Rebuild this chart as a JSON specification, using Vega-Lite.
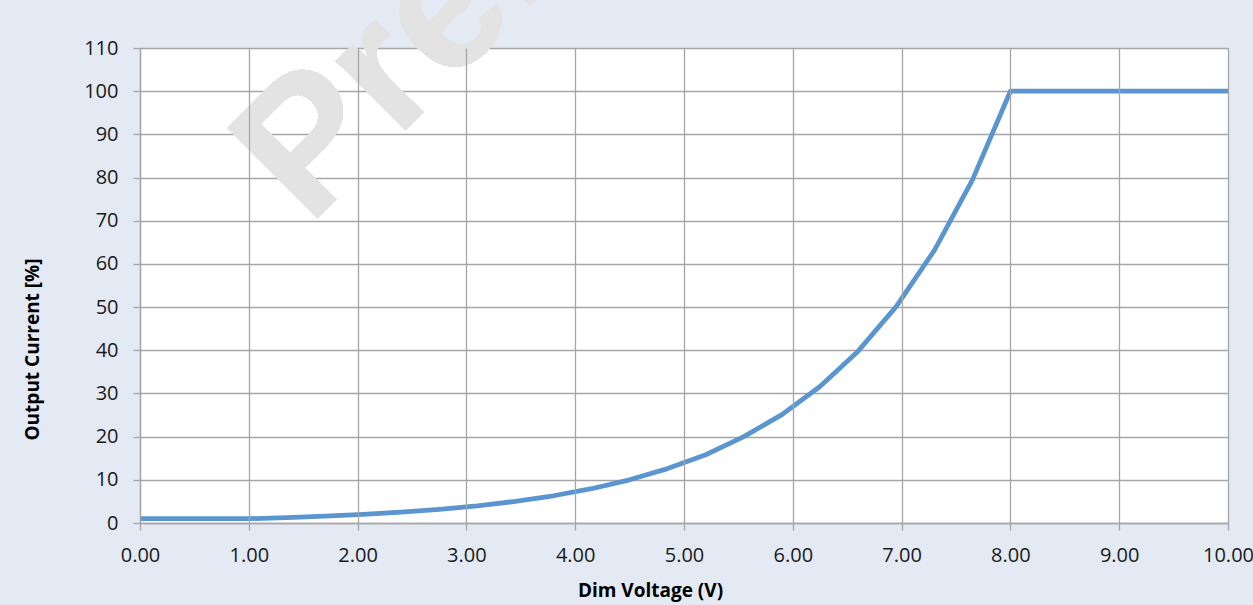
{
  "$schema": "https://vega.github.io/schema/vega-lite/v6.json",
  "width": 1088,
  "height": 475,
  "autosize": {"type": "none"},
  "padding": {"left": 140, "top": 48, "right": 25, "bottom": 82},
  "background": "#e3eaf4",
  "config": {"view": {"fill": "white", "stroke": null}, "font": "Open Sans"},
  "data": {
    "values": [
      {"v": 0.0, "i": 1.0},
      {"v": 1.0, "i": 1.0},
      {"v": 1.35, "i": 1.26},
      {"v": 1.7, "i": 1.58},
      {"v": 2.05, "i": 2.0},
      {"v": 2.4, "i": 2.51},
      {"v": 2.75, "i": 3.16},
      {"v": 3.1, "i": 3.98},
      {"v": 3.45, "i": 5.01},
      {"v": 3.8, "i": 6.31},
      {"v": 4.15, "i": 7.94},
      {"v": 4.5, "i": 10.0},
      {"v": 4.85, "i": 12.6},
      {"v": 5.2, "i": 15.8},
      {"v": 5.55, "i": 20.0},
      {"v": 5.9, "i": 25.1},
      {"v": 6.25, "i": 31.6},
      {"v": 6.6, "i": 39.8},
      {"v": 6.95, "i": 50.1},
      {"v": 7.3, "i": 63.1},
      {"v": 7.65, "i": 79.4},
      {"v": 8.0, "i": 100.0},
      {"v": 10.0, "i": 100.0}
    ]
  },
  "layer": [
    {
      "mark": {"type": "text", "text": "Preliminary", "angle": -45, "fontSize": 186, "font": "Liberation Sans", "fontWeight": "bold", "align": "left", "baseline": "alphabetic", "fill": "#e3e3e3"},
      "encoding": {
        "x": {"datum": 1.55, "type": "quantitative", "title": "Dim Voltage (V)"},
        "y": {"datum": 68.5, "type": "quantitative", "title": "Output Current [%]"}
      }
    },
    {
      "mark": {"type": "line", "color": "#5b95cf", "strokeWidth": 4.8, "strokeJoin": "round", "clip": false},
      "encoding": {
        "x": {
          "field": "v", "type": "quantitative", "title": "Dim Voltage (V)",
          "scale": {"domain": [0, 10], "nice": false, "zero": false},
          "axis": {
            "zindex": 1,
            "values": [0, 1, 2, 3, 4, 5, 6, 7, 8, 9, 10],
            "format": ".2f",
            "grid": true, "gridColor": "#a6a6a6", "gridWidth": 1.3,
            "domainColor": "#a6a6a6", "domainWidth": 1.3,
            "tickColor": "#a6a6a6", "tickWidth": 1.3, "tickSize": 7,
            "labelFontSize": 20, "labelColor": "#1a1a1a", "labelPadding": 15,
            "labelFlush": false, "labelOverlap": false,
            "titleFontSize": 19, "titleFontWeight": "bold", "titleColor": "#000000",
            "titleX": 510, "titleY": 73, "titleBaseline": "alphabetic", "titleAlign": "center"
          }
        },
        "y": {
          "field": "i", "type": "quantitative", "title": "Output Current [%]",
          "scale": {"domain": [0, 110], "nice": false},
          "axis": {
            "zindex": 0,
            "values": [0, 10, 20, 30, 40, 50, 60, 70, 80, 90, 100, 110],
            "grid": true, "gridColor": "#a6a6a6", "gridWidth": 1.3,
            "domainColor": "#a6a6a6", "domainWidth": 1.3,
            "tickColor": "#a6a6a6", "tickWidth": 1.3, "tickSize": 7,
            "labelFontSize": 20, "labelColor": "#1a1a1a", "labelPadding": 15,
            "labelFlush": false, "labelOverlap": false,
            "titleFontSize": 19, "titleFontWeight": "bold", "titleColor": "#000000",
            "titleAngle": -90, "titleX": -101.5, "titleY": 301, "titleBaseline": "alphabetic", "titleAlign": "center"
          }
        }
      }
    }
  ]
}
